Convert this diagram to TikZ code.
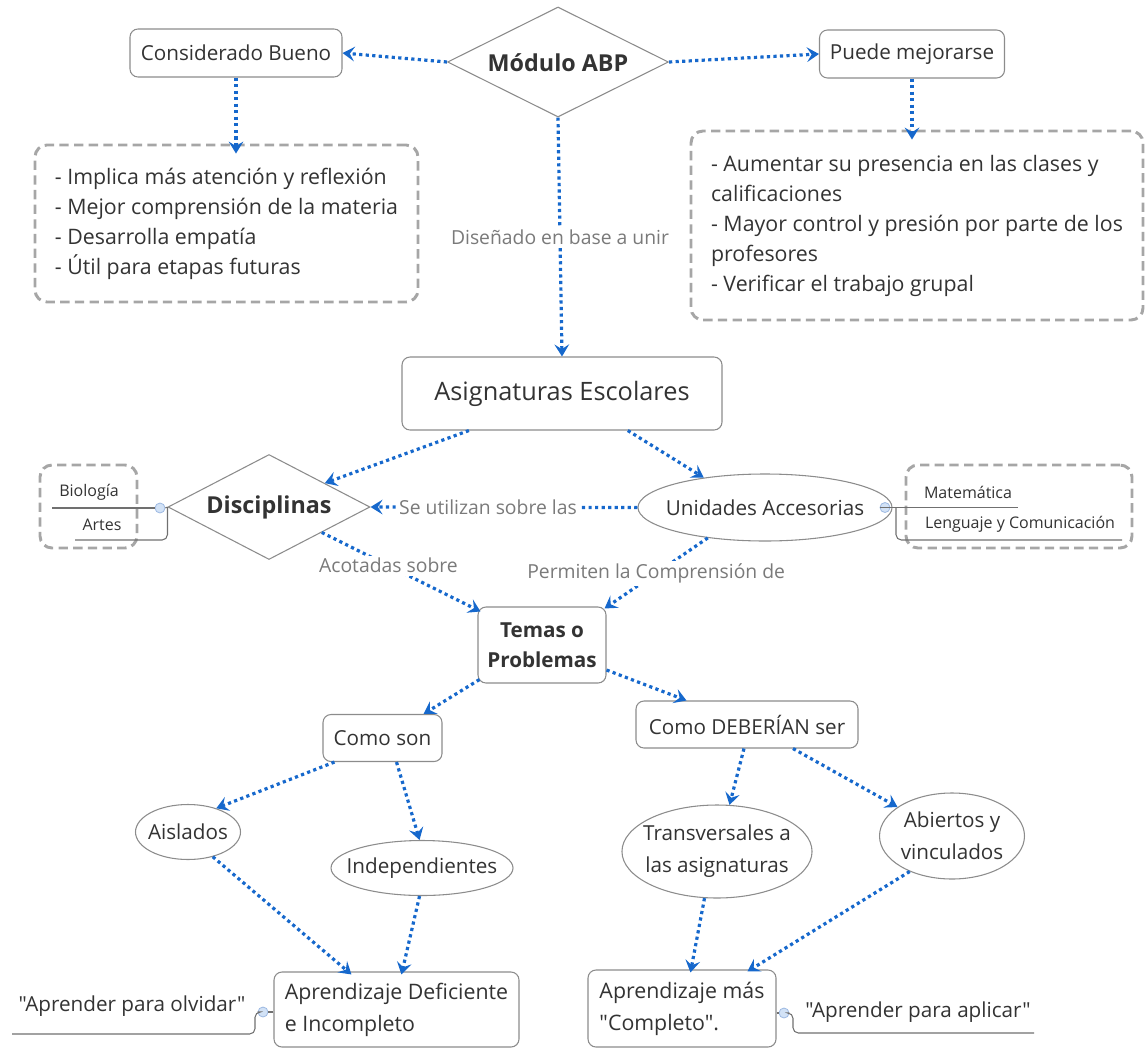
\documentclass[tikz,border=0pt]{standalone}
\usepackage{fontspec}
\setmainfont{Open Sans}[Ligatures=TeXOff]
\usetikzlibrary{shapes.geometric,arrows.meta,calc}
\definecolor{txt}{HTML}{333333}
\definecolor{lbl}{HTML}{7A7A7A}
\definecolor{bord}{HTML}{8C8C8C}
\definecolor{dsh}{HTML}{A6A6A6}
\definecolor{arrc}{HTML}{1668CC}
\definecolor{knobf}{HTML}{D2E2F6}
\definecolor{knobd}{HTML}{9DB9E2}
\definecolor{brc}{HTML}{707070}
\begin{document}
\begin{tikzpicture}[x=0.75pt,y=-0.75pt,
  every node/.style={text=txt, inner sep=0pt},
  rbox/.style={draw=bord, line width=0.8pt, rounded corners=6pt, fill=white},
  dbox/.style={draw=dsh, line width=2.2pt, dash pattern=on 7pt off 4pt, rounded corners=9pt},
  dia/.style={draw=bord, line width=0.8pt, diamond, fill=white},
  ell/.style={draw=bord, line width=0.8pt, ellipse, fill=white},
  arr/.style={draw=arrc, line width=2.4pt, dash pattern=on 2.4pt off 2.5pt, -{Stealth[length=9pt,width=11pt,inset=3.5pt]}},
  lab/.style={text=lbl, fill=white, inner sep=2pt, font=\fontsize{14.5}{17}\selectfont},
  mtxt/.style={font=\fontsize{15.5}{19}\selectfont},
  stxt/.style={font=\fontsize{12}{14}\selectfont},
  knob/.style={circle, minimum size=7.5pt, fill=knobf, draw=knobd, line width=0.6pt},
  branch/.style={draw=brc, line width=0.8pt}
]
\useasboundingbox (0,0) rectangle (1145,1049);

% ---- top
\node[dia, minimum width=165.75pt, minimum height=82.5pt] (mod) at (558,62) {};
\node[font=\bfseries\fontsize{17.5}{21}\selectfont] (modt) at (558,63) {Módulo ABP};
\node[rbox, mtxt, minimum width=159pt, minimum height=36pt] (bueno) at (236,53) {Considerado Bueno};
\node[rbox, mtxt, minimum width=138.75pt, minimum height=36pt] (mejora) at (912,54) {Puede mejorarse};

\node[dbox, minimum width=287.25pt, minimum height=117.75pt, align=left, font=\fontsize{16}{22.5}\selectfont] (lbox) at (226.5,223.5)
  {- Implica más atención y reflexión\\- Mejor comprensión de la materia\\- Desarrolla empatía\\- Útil para etapas futuras};
\node[dbox, minimum width=339pt, minimum height=141.75pt, align=left, font=\fontsize{16}{22.5}\selectfont] (rbox2) at (917,225.5)
  {- Aumentar su presencia en las clases y\\calificaciones\\- Mayor control y presión por parte de los\\profesores\\- Verificar el trabajo grupal};

\node[rbox, minimum width=240pt, minimum height=54.75pt, font=\fontsize{19}{23}\selectfont] (asig) at (562,393.5) {Asignaturas Escolares};

% ---- middle
\node[dia, minimum width=151.5pt, minimum height=78.75pt] (disc) at (269,507) {};
\node[font=\bfseries\fontsize{17.5}{21}\selectfont] (disct) at (269,507) {Disciplinas};
\node[ell, mtxt, inner xsep=-7pt, minimum width=172.5pt, minimum height=50.25pt] (unid) at (765,507.5) {Unidades Accesorias};

% Biologia / Artes
\node[dbox, minimum width=72.75pt, minimum height=62.25pt] (biobox) at (88.5,506.5) {};
\node[stxt] (biot) at (89,492) {Biología};
\node[stxt] (artt) at (102,525) {Artes};
\node[knob] (k1) at (160,508) {};
\draw[branch] (52,508) -- (k1.west);
\draw[branch] (k1.east) -- (disc.west);
\draw[branch, rounded corners=4pt] (disc.west) |- (75,540);

% Matematica / Lenguaje
\node[dbox, minimum width=169.5pt, minimum height=62.25pt] (matbox) at (1019,506.5) {};
\node[stxt] (matt) at (968,492) {Matemática};
\node[stxt] (lengt) at (1020,524) {Lenguaje y Comunicación};
\node[knob] (k2) at (885,507.5) {};
\coordinate (j2) at (896,507.5);
\draw[branch] (unid.east) -- (k2.west);
\draw[branch] (k2.east) -- (j2) -- (1018,507.5);
\draw[branch, rounded corners=4pt] (j2) |- (1122,540);

\node[rbox, minimum width=96pt, minimum height=57pt, align=center, font=\bfseries\fontsize{15.5}{22.5}\selectfont] (temas) at (542,645) {Temas o\\Problemas};

% ---- lower
\node[rbox, mtxt, minimum width=89.25pt, minimum height=35.25pt] (comoson) at (382.5,738) {Como son};
\node[rbox, mtxt, minimum width=166.5pt, minimum height=35.25pt] (comodeb) at (747,724.5) {Como DEBERÍAN ser};

\node[ell, mtxt, inner xsep=-3pt, minimum width=78.75pt, minimum height=41.25pt] (aislados) at (188,832) {Aislados};
\node[ell, mtxt, inner xsep=-9pt, minimum width=136.5pt, minimum height=41.25pt] (indep) at (422,868) {Independientes};
\node[ell, align=center, inner xsep=-5pt, font=\fontsize{15.5}{24}\selectfont, minimum width=142.5pt, minimum height=69.75pt] (transv) at (717,851.5) {Transversales a\\las asignaturas};
\node[ell, align=center, font=\fontsize{15.5}{24}\selectfont, minimum width=108pt, minimum height=64.5pt] (abiertos) at (952,836) {Abiertos y\\vinculados};

\node[rbox, align=left, font=\fontsize{16}{24}\selectfont, minimum width=183.75pt, minimum height=56.25pt] (defic) at (396.5,1009.5) {Aprendizaje Deficiente\\e Incompleto};
\node[rbox, align=left, font=\fontsize{16}{24}\selectfont, minimum width=141pt, minimum height=57.75pt] (compl) at (682,1008.5) {Aprendizaje más\\"Completo".};

% side notes at bottom
\node[knob] (k3) at (263,1012) {};
\node[mtxt] (olv) at (132,1006) {"Aprender para olvidar"};
\draw[branch] (defic.west |- k3) -- (k3.east);
\draw[branch, rounded corners=4pt] (k3.west) -- (255,1012) |- (12,1034);

\node[knob] (k4) at (784,1013) {};
\node[mtxt] (apl) at (918,1012) {"Aprender para aplicar"};
\draw[branch] (compl.east |- k4) -- (k4.west);
\draw[branch, rounded corners=4pt] (k4.east) -- (793,1013) |- (1034,1033);

% ---- connectors
\draw[arr] (mod.west) -- (bueno.east);
\draw[arr] (mod.east) -- (mejora.west);
\draw[arr] (bueno.south) -- ($(bueno.south |- lbox.north)+(0,10)$);
\draw[arr] (mejora.south) -- ($(mejora.south |- rbox2.north)+(0,10)$);
\draw[arr] (mod.south) -- node[lab] (l1) {Diseñado en base a unir} (asig.north);
\draw[arr] ($(asig.south west)!0.21!(asig.south east)$) -- ($(disc.north)!0.55!(disc.east)$);
\draw[arr] ($(asig.south west)!0.705!(asig.south east)$) -- (unid.154);
\draw[arr] (unid.west) -- node[lab, pos=0.56] (l2) {Se utilizan sobre las} (disc.east);
\draw[arr] ($(disc.east)!0.48!(disc.south)$) -- node[lab, pos=0.42] (l3) {Acotadas sobre} ($(temas.north west)+(3,5)$);
\draw[arr] (unid.208) -- node[lab, pos=0.5] (l4) {Permiten la Comprensión de} ($(temas.north east)+(-2,2)$);
\draw[arr] ($(temas.south west)+(2,-4)$) -- ($(comoson.north east)+(-19,0)$);
\draw[arr] ($(temas.east)+(0,25)$) -- ($(comodeb.north west)+(51,0)$);
\draw[arr] ($(comoson.south west)+(12,0)$) -- (aislados.40);
\draw[arr] ($(comoson.south)+(14,0)$) -- (indep.95);
\draw[arr] ($(comodeb.south)+(-3,0)$) -- (transv.75);
\draw[arr] ($(comodeb.south)+(46,0)$) -- (abiertos.152);
\draw[arr] (aislados.-45) -- ($(defic.north west)+(78,3)$);
\draw[arr] (indep.-95) -- ($(defic.north west)+(128,3)$);
\draw[arr] (transv.-105) -- ($(compl.north west)+(103,3)$);
\draw[arr] (abiertos.-140) -- ($(compl.north west)+(160,2)$);
\end{tikzpicture}
\end{document}
